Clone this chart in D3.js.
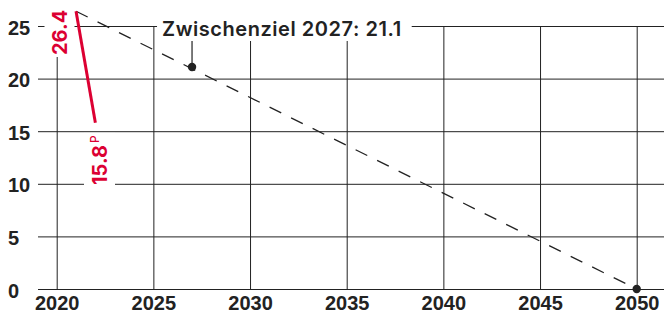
<!DOCTYPE html>
<html><head><meta charset="utf-8">
<script src="https://cdn.jsdelivr.net/npm/d3@7"></script>
<style>
html,body{margin:0;padding:0;background:#fff;}
svg{display:block;font-family:Inter,"DejaVu Sans",sans-serif;}
</style></head>
<body>
<svg id="c" width="664" height="314"></svg>
<script>
// ---- data ----
const yearTicks = [2020, 2025, 2030, 2035, 2040, 2045, 2050];
const valueTicks = [0, 5, 10, 15, 20, 25];
const actualYears = [2021, 2022];
const actualValues = [26.4, 15.8];
const pathYears = [2021, 2050];
const pathValues = [26.4, 0];
const targetYears = [2027, 2050];
const targetValues = [21.1, 0];
const annotationText = "Zwischenziel 2027: 21.1";
const labelStart = "26.4";
const labelEnd = "15.8";
const labelEndSup = "P";

const W = 664, H = 314;
const red = "#dc0032", ink = "#222";
const svg = d3.select("#c");
const x = d3.scaleLinear().domain([2020, 2050]).range([56.7, 636.7]);
const y = d3.scaleLinear().domain([0, 25]).range([289, 26]);
const gridLeft = 38;

// horizontal grid + y labels
const ya = svg.append("g").attr("transform", `translate(${gridLeft},0)`)
  .call(d3.axisLeft(y).tickValues(valueTicks).tickSize(-(W - gridLeft)).tickPadding(0));
ya.select(".domain").remove();
ya.selectAll(".tick line").attr("stroke", ink).attr("stroke-width", 1);
ya.selectAll(".tick line").attr("x1", 0).attr("x2", W - gridLeft);
ya.selectAll(".tick text").attr("x", 8 - gridLeft).attr("text-anchor", "start")
  .attr("dy", "0.4em").attr("fill", ink).style("font-size", "20px").style("font-weight", 700);

// vertical grid + x labels
const xa = svg.append("g").attr("transform", `translate(0,${y(0)})`)
  .call(d3.axisBottom(x).tickValues(yearTicks).tickFormat(d3.format("d")).tickSize(-(y(0) - y(25))).tickPadding(0));
xa.select(".domain").remove();
xa.selectAll(".tick line").attr("stroke", ink).attr("stroke-width", 1);
xa.selectAll(".tick text").attr("y", 20.5).attr("dy", "0").attr("fill", ink)
  .style("font-size", "20px").style("font-weight", 700);

// annotation text with white mask
const ann = svg.append("g");
const annX = x(2027) - 30, annBase = 36;
const annT = ann.append("text").attr("x", annX).attr("y", annBase).attr("fill", ink)
  .style("font-size", "20px").style("font-weight", 600).style("letter-spacing", "0.55px").text(annotationText);
const ab = annT.node().getBBox();
ann.insert("rect", "text").attr("x", ab.x - 5).attr("y", 10).attr("width", ab.width + 15)
  .attr("height", 41 - 10).attr("fill", "#fff");

// red label masks & labels
function rotLabel(txt, sup, xBase, yStart) {
  const g = svg.append("g").attr("transform", `translate(${xBase},${yStart}) rotate(-90)`);
  const t = g.append("text").attr("x", 0).attr("y", 0).attr("fill", red)
    .style("font-size", "20px").style("font-weight", 700);
  t.append("tspan").text(txt);
  if (sup) t.append("tspan").attr("dx", 2).attr("dy", -8).style("font-size", "12px").style("font-weight", 500).text(sup);
  const b = t.node().getBBox();
  g.insert("rect", "text").attr("x", b.x - 2).attr("y", b.y - 3).attr("width", b.width + 4)
    .attr("height", b.height + 6).attr("fill", "#fff");
  return g;
}
rotLabel(labelStart, null, 66.5, 55);
rotLabel(labelEnd, labelEndSup, 107, 185);

// dashed path
const line = d3.line().x((d, i) => x(pathYears[i])).y(d => y(d));
svg.append("path").datum(pathValues).attr("d", line)
  .attr("fill", "none").attr("stroke", ink).attr("stroke-width", 1.3).attr("stroke-dasharray", "13 11");

// leader line
svg.append("line").attr("x1", x(targetYears[0])).attr("x2", x(targetYears[0]))
  .attr("y1", 41).attr("y2", y(targetValues[0])).attr("stroke", ink).attr("stroke-width", 1.2);

// target dots
svg.selectAll("circle.t").data(targetValues).join("circle").attr("class", "t")
  .attr("cx", (d, i) => x(targetYears[i])).attr("cy", d => y(d)).attr("r", 4.2).attr("fill", ink);

// actual red line
const rline = d3.line().x((d, i) => x(actualYears[i])).y(d => y(d));
svg.append("path").datum(actualValues).attr("d", rline)
  .attr("fill", "none").attr("stroke", red).attr("stroke-width", 3);
</script>
</body></html>
